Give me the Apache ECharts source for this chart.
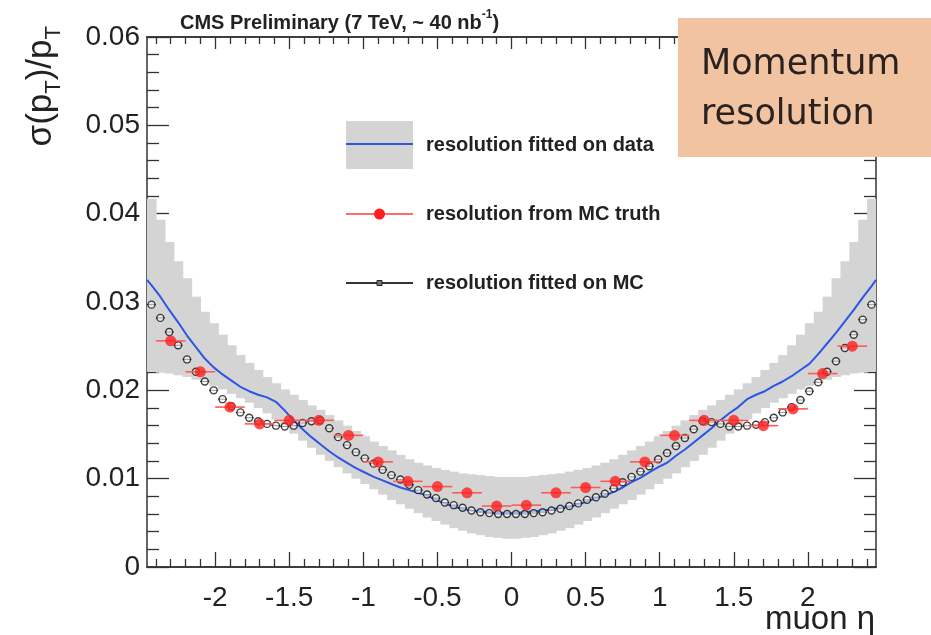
<!DOCTYPE html>
<html><head><meta charset="utf-8">
<script src="https://cdn.jsdelivr.net/npm/echarts@6/dist/echarts.min.js"></script>
<style>html,body{margin:0;padding:0;background:#fff}#c{width:931px;height:635px}</style>
</head><body><div id="c"></div><script>
// ---- data ----
const etaBins = [-2.43,-2.37,-2.31,-2.25,-2.19,-2.13,-2.07,-2.01,-1.95,-1.89,
  -1.83,-1.77,-1.71,-1.65,-1.59,-1.53,-1.47,-1.41,-1.35,-1.29,
  -1.23,-1.17,-1.11,-1.05,-0.99,-0.93,-0.87,-0.81,-0.75,-0.69,
  -0.63,-0.57,-0.51,-0.45,-0.39,-0.33,-0.27,-0.21,-0.15,-0.09,
  -0.03,0.03,0.09,0.15,0.21,0.27,0.33,0.39,0.45,0.51,
  0.57,0.63,0.69,0.75,0.81,0.87,0.93,0.99,1.05,1.11,
  1.17,1.23,1.29,1.35,1.41,1.47,1.53,1.59,1.65,1.71,
  1.77,1.83,1.89,1.95,2.01,2.07,2.13,2.19,2.25,2.31,
  2.37,2.43];
const bandUpper = [0.0417,0.0393,0.0368,0.0346,0.0327,0.0306,0.0289,0.0276,0.0263,0.0251,
  0.0240,0.0231,0.0223,0.0215,0.0208,0.0201,0.0195,0.0189,0.0183,0.0178,
  0.0172,0.0166,0.0160,0.0154,0.0148,0.0142,0.0137,0.0132,0.0127,0.0122,
  0.0118,0.0115,0.0112,0.0110,0.0108,0.0106,0.0105,0.0104,0.0103,0.0102,
  0.0102,0.0102,0.0102,0.0103,0.0104,0.0105,0.0106,0.0108,0.0110,0.0112,
  0.0115,0.0118,0.0122,0.0127,0.0132,0.0137,0.0142,0.0148,0.0154,0.0160,
  0.0166,0.0172,0.0178,0.0183,0.0189,0.0195,0.0201,0.0208,0.0215,0.0223,
  0.0231,0.0240,0.0251,0.0263,0.0276,0.0289,0.0306,0.0327,0.0346,0.0368,
  0.0393,0.0417];
const bandLower = [0.0221,0.0220,0.0219,0.0217,0.0215,0.0212,0.0209,0.0205,0.0201,0.0196,
  0.0191,0.0186,0.0180,0.0174,0.0167,0.0159,0.0151,0.0143,0.0135,0.0127,
  0.0120,0.0113,0.0106,0.0100,0.0094,0.0088,0.0082,0.0076,0.0071,0.0066,
  0.0061,0.0056,0.0052,0.0048,0.0044,0.0041,0.0038,0.0036,0.0034,0.0033,
  0.0032,0.0032,0.0033,0.0034,0.0036,0.0038,0.0041,0.0044,0.0048,0.0052,
  0.0056,0.0061,0.0066,0.0071,0.0076,0.0082,0.0088,0.0094,0.0100,0.0106,
  0.0113,0.0120,0.0127,0.0135,0.0143,0.0151,0.0159,0.0167,0.0174,0.0180,
  0.0186,0.0191,0.0196,0.0201,0.0205,0.0209,0.0212,0.0215,0.0217,0.0219,
  0.0220,0.0221];
const fitOnData = [0.0319,0.0306,0.0291,0.0277,0.0262,0.0249,0.0236,0.0226,0.0218,0.0211,
  0.0204,0.0199,0.0195,0.0192,0.0187,0.0177,0.0166,0.0156,0.0147,0.0139,
  0.0131,0.0124,0.0118,0.0112,0.0107,0.0102,0.0098,0.0094,0.0090,0.0087,
  0.0084,0.0081,0.0076,0.0072,0.0068,0.0066,0.0064,0.0063,0.0062,0.0061,
  0.0061,0.0061,0.0062,0.0063,0.0064,0.0065,0.0067,0.0068,0.0071,0.0074,
  0.0078,0.0081,0.0085,0.0090,0.0096,0.0101,0.0107,0.0113,0.0118,0.0126,
  0.0133,0.0141,0.0149,0.0157,0.0166,0.0174,0.0181,0.0190,0.0195,0.0199,
  0.0205,0.0210,0.0216,0.0223,0.0230,0.0241,0.0253,0.0265,0.0278,0.0291,
  0.0305,0.0318];
const fitOnDataEdgeEta = [-2.46, 2.46];
const fitOnDataEdgeVal = [0.0325, 0.0325];
const fitOnMC = [0.0297,0.0282,0.0266,0.0251,0.0235,0.0221,0.0210,0.0200,0.0190,0.0182,
  0.0175,0.0169,0.0165,0.0162,0.0160,0.0159,0.0160,0.0163,0.0165,0.0166,
  0.0157,0.0147,0.0138,0.0130,0.0123,0.0117,0.0110,0.0104,0.0099,0.0093,
  0.0087,0.0082,0.0078,0.0073,0.0070,0.0067,0.0064,0.0062,0.0061,0.0060,
  0.0060,0.0060,0.0060,0.0061,0.0062,0.0064,0.0066,0.0069,0.0072,0.0076,
  0.0079,0.0083,0.0089,0.0096,0.0102,0.0108,0.0114,0.0122,0.0129,0.0137,
  0.0146,0.0156,0.0165,0.0164,0.0162,0.0159,0.0159,0.0160,0.0161,0.0164,
  0.0169,0.0175,0.0181,0.0189,0.0199,0.0209,0.0221,0.0233,0.0248,0.0263,
  0.0280,0.0297];
const truthEta = [-2.3,-2.1,-1.9,-1.7,-1.5,-1.3,-1.1,-0.9,-0.7,-0.5,-0.3,-0.1,
  0.1,0.3,0.5,0.7,0.9,1.1,1.3,1.5,1.7,1.9,2.1,2.3];
const truthVal = [0.0256,0.0221,0.0181,0.0162,0.0166,0.0166,0.0149,0.0119,0.0097,0.0091,0.0084,0.0069,
  0.0070,0.0084,0.0090,0.0097,0.0119,0.0149,0.0166,0.0166,0.0160,0.0179,0.0219,0.0250];
const xMajorTicks = [-2,-1.5,-1,-0.5,0,0.5,1,1.5,2];
const xMinorTicks = [-2.4,-2.3,-2.2,-2.1,-1.9,-1.8,-1.7,-1.6,-1.4,-1.3,-1.2,-1.1,-0.9,-0.8,-0.7,-0.6,
  -0.4,-0.3,-0.2,-0.1,0.1,0.2,0.3,0.4,0.6,0.7,0.8,0.9,1.1,1.2,1.3,1.4,1.6,1.7,1.8,1.9,2.1,2.2,2.3,2.4];
const X_MIN = -2.46, X_MAX = 2.46;
const BIN_HALF = 0.03, TRUTH_HALF = 0.1;

// ---- chart ----
const chart = echarts.init(document.getElementById('c'), null, {renderer: 'canvas'});
const FONT = "'Liberation Sans', Arial, Helvetica, sans-serif";
const AXC = '#333';
function xAx(pos, vals, len, labels) {
  return {
    type: 'value', position: pos, min: X_MIN, max: X_MAX,
    axisLine: {show: true, onZero: false, lineStyle: {color: AXC, width: 1.5}},
    axisTick: {show: true, inside: true, length: len, customValues: vals, lineStyle: {color: AXC, width: 1.3}},
    axisLabel: labels ? {show: true, customValues: xMajorTicks, fontSize: 28, fontFamily: FONT, color: '#222', margin: 17,
      formatter: v => String(v)} : {show: false},
    splitLine: {show: false}
  };
}
function yAx(pos, labels) {
  return {
    type: 'value', position: pos, min: 0, max: 0.06, interval: 0.01,
    axisLine: {show: true, onZero: false, lineStyle: {color: AXC, width: 1.5}},
    axisTick: {show: true, inside: true, length: 22, lineStyle: {color: AXC, width: 1.3}},
    minorTick: {show: true, splitNumber: 5, length: 12, lineStyle: {color: AXC, width: 1.3}},
    axisLabel: labels ? {show: true, fontSize: 28, fontFamily: FONT, color: '#222', margin: 7,
      formatter: v => v === 0 ? '0' : v.toFixed(2)} : {show: false},
    splitLine: {show: false}, minorSplitLine: {show: false}
  };
}
function hBar(half, color, width) {
  return function (params, api) {
    const x = api.value(0), y = api.value(1);
    const a = api.coord([x - half, y]), b = api.coord([x + half, y]);
    return {type: 'line', shape: {x1: a[0], y1: a[1], x2: b[0], y2: b[1]}, style: {stroke: color, lineWidth: width}};
  };
}
const legX0 = 346, legX1 = 413, legText = 426;
const legFont = "bold 20px " + FONT;
const boxFont = '35px "DejaVu Sans", sans-serif';
const blueLineData = [[fitOnDataEdgeEta[0], fitOnDataEdgeVal[0]]]
  .concat(etaBins.map((x, i) => [x, fitOnData[i]]))
  .concat([[fitOnDataEdgeEta[1], fitOnDataEdgeVal[1]]]);
chart.setOption({
  animation: false,
  grid: {left: 147, right: 55, top: 37, bottom: 68, containLabel: false},
  xAxis: [xAx('bottom', xMajorTicks, 15, true), xAx('bottom', xMinorTicks, 8, false),
          xAx('top', xMajorTicks, 12, false), xAx('top', xMinorTicks, 7, false)],
  yAxis: [yAx('left', true), yAx('right', false)],
  series: [
    {type: 'custom', name: 'band', xAxisIndex: 0, yAxisIndex: 0, z: 1, clip: true,
     data: etaBins.map((x, i) => [x, bandLower[i], bandUpper[i]]),
     encode: {x: 0, y: [1, 2]},
     renderItem: function (params, api) {
       const x = api.value(0), lo = api.value(1), hi = api.value(2);
       const p1 = api.coord([x - BIN_HALF, hi]), p2 = api.coord([x + BIN_HALF, lo]);
       return {type: 'rect', shape: {x: p1[0], y: p1[1], width: p2[0] - p1[0] + 0.7, height: p2[1] - p1[1]},
               style: {fill: '#d4d4d4'}};
     }},
    {type: 'line', name: 'resolution fitted on data', z: 3, showSymbol: false, smooth: false,
     data: blueLineData,
     lineStyle: {color: '#2d55e6', width: 2}},
    {type: 'custom', name: 'mcbars', z: 4, data: etaBins.map((x, i) => [x, fitOnMC[i]]),
     encode: {x: 0, y: 1}, renderItem: hBar(BIN_HALF, '#222', 1)},
    {type: 'scatter', name: 'resolution fitted on MC', z: 5, symbol: 'circle', symbolSize: 7,
     data: etaBins.map((x, i) => [x, fitOnMC[i]]),
     itemStyle: {color: 'rgba(255,255,255,0.7)', borderColor: '#111', borderWidth: 1.4}},
    {type: 'custom', name: 'truthbars', z: 6, data: truthEta.map((x, i) => [x, truthVal[i]]),
     encode: {x: 0, y: 1}, renderItem: hBar(TRUTH_HALF, '#ff5a5a', 1.6)},
    {type: 'scatter', name: 'resolution from MC truth', z: 7, symbol: 'circle', symbolSize: 11,
     data: truthEta.map((x, i) => [x, truthVal[i]]),
     itemStyle: {color: '#ff1f1f'}}
  ],
  graphic: [
    {type: 'text', left: 180, top: 9, style: {text: '{b|CMS Preliminary (7 TeV, ~ 40 nb}{s|-1}{b|)}',
      rich: {b: {font: 'bold 20px ' + FONT, fill: '#222', verticalAlign: 'bottom', lineHeight: 24},
             s: {font: 'bold 12px ' + FONT, fill: '#222', verticalAlign: 'top', lineHeight: 24}}}},
    {type: 'text', x: 41, y: 26, rotation: Math.PI / 2,
     style: {text: '{m|σ(p}{s|T}{m|)/p}{s|T}', align: 'right', verticalAlign: 'middle',
       rich: {m: {fontSize: 35, fontFamily: FONT, fill: '#222', lineHeight: 48, verticalAlign: 'middle'},
              s: {fontSize: 22, fontFamily: FONT, fill: '#222', lineHeight: 22, verticalAlign: 'bottom'}}}},
    {type: 'text', right: 56, top: 603, style: {text: 'muon η', font: '33px ' + FONT, fill: '#222'}},
    // legend
    {type: 'rect', shape: {x: legX0, y: 121, width: legX1 - legX0, height: 48}, style: {fill: '#d4d4d4'}},
    {type: 'line', shape: {x1: legX0, y1: 144, x2: legX1, y2: 144}, style: {stroke: '#2d55e6', lineWidth: 2}},
    {type: 'text', x: legText, y: 145, style: {text: 'resolution fitted on data', font: legFont, fill: '#222', verticalAlign: 'middle'}},
    {type: 'line', shape: {x1: legX0, y1: 214, x2: legX1, y2: 214}, style: {stroke: '#ff6a6a', lineWidth: 2}},
    {type: 'circle', shape: {cx: 379.5, cy: 214, r: 5.5}, style: {fill: '#ff1f1f'}},
    {type: 'text', x: legText, y: 214, style: {text: 'resolution from MC truth', font: legFont, fill: '#222', verticalAlign: 'middle'}},
    {type: 'line', shape: {x1: legX0, y1: 283, x2: legX1, y2: 283}, style: {stroke: '#333', lineWidth: 2}},
    {type: 'rect', shape: {x: 377, y: 280.5, width: 5, height: 5}, style: {fill: '#777', stroke: '#222', lineWidth: 1}},
    {type: 'text', x: legText, y: 283, style: {text: 'resolution fitted on MC', font: legFont, fill: '#222', verticalAlign: 'middle'}},
    // annotation box
    {type: 'rect', shape: {x: 678, y: 18, width: 253, height: 139}, style: {fill: '#f2c3a1'}, z: 10},
    {type: 'text', x: 701, y: 65, z: 11, style: {text: 'Momentum', font: boxFont, fill: '#2a2220', verticalAlign: 'middle'}},
    {type: 'text', x: 701, y: 115, z: 11, style: {text: 'resolution', font: boxFont, fill: '#2a2220', verticalAlign: 'middle'}}
  ]
});
</script></body></html>
